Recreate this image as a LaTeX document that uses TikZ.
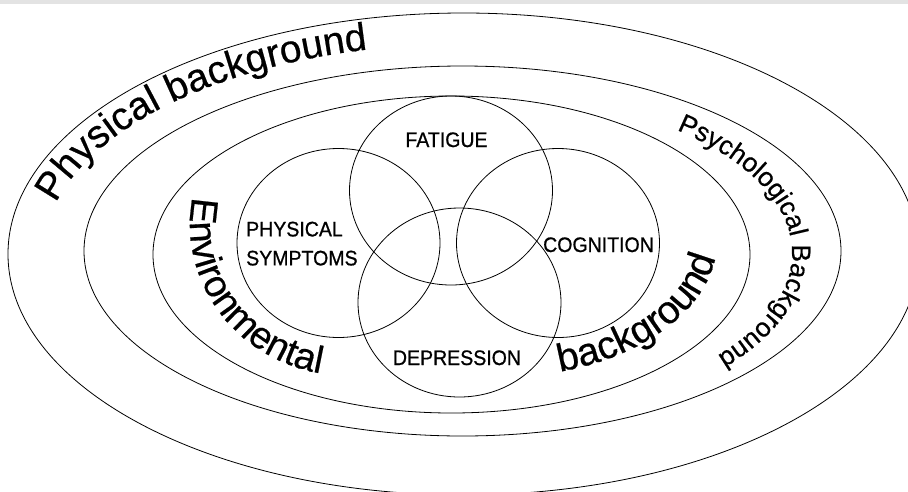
\documentclass[tikz,border=0pt]{standalone}
\usepackage{fontspec}
\setmainfont{Liberation Sans}
\newfontfamily\lblfont[FakeStretch=0.93,FakeBold=0.8]{Liberation Sans}
\newfontfamily\curvefont[FakeBold=0.5]{Liberation Sans}
\usetikzlibrary{shapes.geometric,decorations.text}
\begin{document}
\begin{tikzpicture}[x=1pt,y=1pt,
  ring/.style={draw=black,line width=0.8pt,ellipse,inner sep=0pt,fill=none},
  topic/.style={draw=black,line width=0.8pt,ellipse,inner sep=0pt,minimum width=203pt,minimum height=189pt},
  lbl/.style={inner sep=0pt,font=\lblfont\fontsize{21}{29}\selectfont},
  curved/.style={decorate,decoration={text along path,text align=left,text={#1}}}
]
\useasboundingbox (0,0) rectangle (908,-491);
\clip (0,0) rectangle (908,-491);
\fill[gray!22] (0,0) rectangle (908,-4);
% background rings
\node[ring,minimum width=911pt,minimum height=482pt] (e1) at (463.5,-254) {};
\node[ring,minimum width=757pt,minimum height=370pt] (e2) at (462.5,-251) {};
\node[ring,minimum width=597pt,minimum height=317pt] (e3) at (451.5,-254.5) {};
% topic circles
\node[topic] (fat) at (451,-190.5) {};
\node[topic] (phy) at (338.5,-243) {};
\node[topic] (cog) at (558,-243) {};
\node[topic] (dep) at (459.5,-302.5) {};
% labels
\node[lbl,anchor=base] (tfat) at (446.5,-147) {FATIGUE};
\node[lbl,anchor=north west,align=left] (tphy) at (246,-221.5) {PHYSICAL\\SYMPTOMS};
\node[lbl,anchor=base] (tcog) at (598.5,-252) {COGNITION};
\node[lbl,anchor=base] (tdep) at (457,-365) {DEPRESSION};
% curved texts
\path[curved={|\curvefont\fontsize{39}{39}\selectfont|Physical background}]
  (463.5,-254) ++(166:420 and 210) arc[start angle=166,end angle=60,x radius=420,y radius=210];
\path[curved={|\curvefont\fontsize{26.5}{26.5}\selectfont|Psychological Background}]
  (457,-253) ++(49:335 and 163) arc[start angle=49,end angle=-70,x radius=335,y radius=163];
\path[curved={|\curvefont\fontsize{38}{38}\selectfont|Environmental}]
  (350,-225) ++(169.3:160 and 151) arc[start angle=169.3,end angle=300,x radius=160,y radius=151];
\path[curved={|\curvefont\fontsize{39}{39}\selectfont|background}]
  (500,-240) ++(286:217 and 137) arc[start angle=286,end angle=400,x radius=217,y radius=137];
\end{tikzpicture}
\end{document}
